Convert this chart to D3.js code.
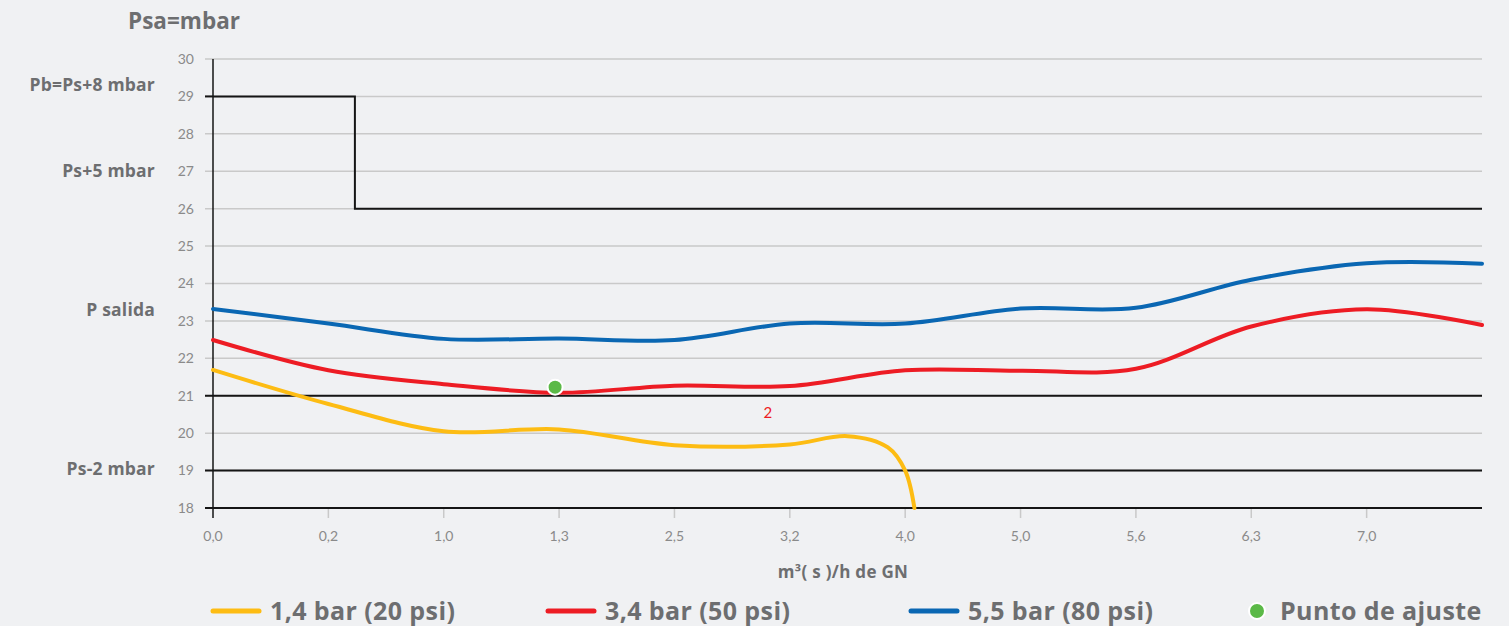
<!DOCTYPE html>
<html>
<head>
<meta charset="utf-8">
<script src="https://cdn.jsdelivr.net/npm/d3@7"></script>
<style>
  body { margin: 0; background: #f0f1f3; }
  svg { display: block; font-family: Lato, "Open Sans", sans-serif; }
  .bold { font-family: "Open Sans", Lato, sans-serif; font-weight: 700; }
</style>
</head>
<body>
<svg id="chart" width="1509" height="626"></svg>
<script>
// categories on the x axis (last slot has no label)
const xLabels = ['0,0', '0,2', '1,0', '1,3', '2,5', '3,2', '4,0', '5,0', '5,6', '6,3', '7,0']
const yTicks = d3.range(18, 31)

// series, [category index, mbar]
const serie14 = [[0, 21.69], [1, 20.78], [2, 20.05], [3, 20.1], [4, 19.68], [5, 19.7],
  [5.5, 19.92], [5.85, 19.62], [6, 19.0], [6.08, 18.0]]
const serie34 = [[0, 22.49], [1, 21.68], [2, 21.31], [3, 21.08], [4, 21.27], [5, 21.26],
  [6, 21.68], [7, 21.67], [8, 21.72], [9, 22.85], [10, 23.31], [11, 22.89]]
const serie55 = [[0, 23.32], [1, 22.93], [2, 22.52], [3, 22.53], [4, 22.49], [5, 22.93],
  [6, 22.93], [7, 23.33], [8, 23.35], [9, 24.1], [10, 24.54], [11, 24.53]]
const stepLine = [[0, 29], [1.23, 29], [1.23, 26], [11, 26]]
const refLines = [19, 21]
const ajuste = [[3, 21.23]]
const dataLabel = { x: 4.81, y: 20.55, text: '2' }

// left-side labels
const sideLabels = [
  { v: 29.3, text: 'Pb=Ps+8 mbar' },
  { v: 27.0, text: 'Ps+5 mbar' },
  { v: 23.3, text: 'P salida' },
  { v: 19.05, text: 'Ps-2 mbar' }
]

const legend = [
  { text: '1,4 bar (20 psi)', color: '#fdbc13', type: 'line', x: 211 },
  { text: '3,4 bar (50 psi)', color: '#ed1c24', type: 'line', x: 546 },
  { text: '5,5 bar (80 psi)', color: '#0a67b3', type: 'line', x: 909 },
  { text: 'Punto de ajuste', color: '#5bb947', type: 'dot', x: 1249 }
]

const width = 1509, height = 626
const margin = { top: 59, right: 27, bottom: 118, left: 213 }

const svg = d3.select('#chart')

const x = d3.scaleLinear().domain([0, 11]).range([margin.left, width - margin.right])
const y = d3.scaleLinear().domain([18, 30]).range([height - margin.bottom, margin.top])

// gridlines
svg.append('g')
  .selectAll('line')
  .data(yTicks)
  .join('line')
  .attr('x1', margin.left - 8)
  .attr('x2', width - margin.right)
  .attr('y1', d => y(d))
  .attr('y2', d => y(d))
  .attr('stroke', '#c9c9c9')
  .attr('stroke-width', 1.5)

// x ticks (gray, below axis)
svg.append('g')
  .selectAll('line')
  .data(d3.range(1, xLabels.length))
  .join('line')
  .attr('x1', d => x(d))
  .attr('x2', d => x(d))
  .attr('y1', y(18))
  .attr('y2', y(18) + 10)
  .attr('stroke', '#c9c9c9')
  .attr('stroke-width', 1.5)

// reference lines
svg.append('g')
  .selectAll('line')
  .data(refLines.concat([18]))
  .join('line')
  .attr('x1', margin.left - 8)
  .attr('x2', width - margin.right)
  .attr('y1', d => y(d))
  .attr('y2', d => y(d))
  .attr('stroke', '#151515')
  .attr('stroke-width', 2)

// step line
svg.append('path')
  .datum(stepLine)
  .attr('fill', 'none')
  .attr('stroke', '#151515')
  .attr('stroke-width', 2)
  .attr('d', d3.line().x(d => x(d[0])).y(d => y(d[1])))
svg.append('line')
  .attr('x1', margin.left - 8).attr('x2', margin.left)
  .attr('y1', y(29)).attr('y2', y(29))
  .attr('stroke', '#151515').attr('stroke-width', 2)

// y axis line
svg.append('line')
  .attr('x1', margin.left).attr('x2', margin.left)
  .attr('y1', y(30)).attr('y2', y(18) + 10)
  .attr('stroke', '#151515').attr('stroke-width', 1.5)

// y tick labels
svg.append('g')
  .selectAll('text')
  .data(yTicks)
  .join('text')
  .attr('x', margin.left - 19)
  .attr('y', d => y(d))
  .attr('dy', '0.35em')
  .attr('text-anchor', 'end')
  .attr('fill', '#8a8a8a')
  .attr('font-size', 14)
  .text(d => d)

// x tick labels
svg.append('g')
  .selectAll('text')
  .data(xLabels)
  .join('text')
  .attr('x', (d, i) => x(i))
  .attr('y', 541)
  .attr('text-anchor', 'middle')
  .attr('fill', '#8a8a8a')
  .attr('font-size', 14)
  .text(d => d)

// side labels
svg.append('g')
  .selectAll('text')
  .data(sideLabels)
  .join('text')
  .attr('class', 'bold')
  .attr('x', 155)
  .attr('y', d => y(d.v))
  .attr('dy', '0.35em')
  .attr('text-anchor', 'end')
  .attr('fill', '#6d6e70')
  .attr('font-size', 17.5)
  .attr('letter-spacing', 0.2)
  .text(d => d.text)

// titles
svg.append('text')
  .attr('class', 'bold')
  .attr('x', 184).attr('y', 29)
  .attr('text-anchor', 'middle')
  .attr('fill', '#6d6e70')
  .attr('font-size', 22.5)
  .text('Psa=mbar')

svg.append('text')
  .attr('class', 'bold')
  .attr('x', 843).attr('y', 578)
  .attr('text-anchor', 'middle')
  .attr('fill', '#6d6e70')
  .attr('font-size', 17)
  .attr('letter-spacing', 0.3)
  .text('m³( s )/h de GN')

// series
const line = d3.line()
  .x(d => x(d[0]))
  .y(d => y(d[1]))
  .curve(d3.curveCatmullRom.alpha(0.5))

const series = [
  { data: serie55, color: '#0a67b3' },
  { data: serie34, color: '#ed1c24' },
  { data: serie14, color: '#fdbc13' }
]
svg.append('g')
  .selectAll('path')
  .data(series)
  .join('path')
  .attr('fill', 'none')
  .attr('stroke', d => d.color)
  .attr('stroke-width', 4)
  .attr('stroke-linecap', 'round')
  .attr('d', d => line(d.data))

// data label
svg.append('text')
  .attr('x', x(dataLabel.x)).attr('y', y(dataLabel.y))
  .attr('dy', '0.35em')
  .attr('text-anchor', 'middle')
  .attr('fill', '#ed1c24')
  .attr('font-size', 15)
  .text(dataLabel.text)

// punto de ajuste
svg.append('g')
  .selectAll('circle')
  .data(ajuste)
  .join('circle')
  .attr('cx', d => x(d[0]) - 4)
  .attr('cy', d => y(d[1]))
  .attr('r', 7.5)
  .attr('fill', '#5bb947')
  .attr('stroke', '#fff')
  .attr('stroke-width', 2)

// legend
const lg = svg.append('g')
  .selectAll('g')
  .data(legend)
  .join('g')
  .attr('transform', d => `translate(${d.x},611)`)

lg.filter(d => d.type === 'line')
  .append('line')
  .attr('x1', 2).attr('x2', 48)
  .attr('stroke', d => d.color)
  .attr('stroke-width', 5)
  .attr('stroke-linecap', 'round')

lg.filter(d => d.type === 'dot')
  .append('circle')
  .attr('cx', 8)
  .attr('r', 8)
  .attr('fill', d => d.color)
  .attr('stroke', '#fff')
  .attr('stroke-width', 2)

lg.append('text')
  .attr('class', 'bold')
  .attr('x', d => d.type === 'dot' ? 31 : 59)
  .attr('dy', '0.35em')
  .attr('fill', '#6d6e70')
  .attr('font-size', 25)
  .attr('letter-spacing', 0.4)
  .text(d => d.text)
</script>
</body>
</html>
